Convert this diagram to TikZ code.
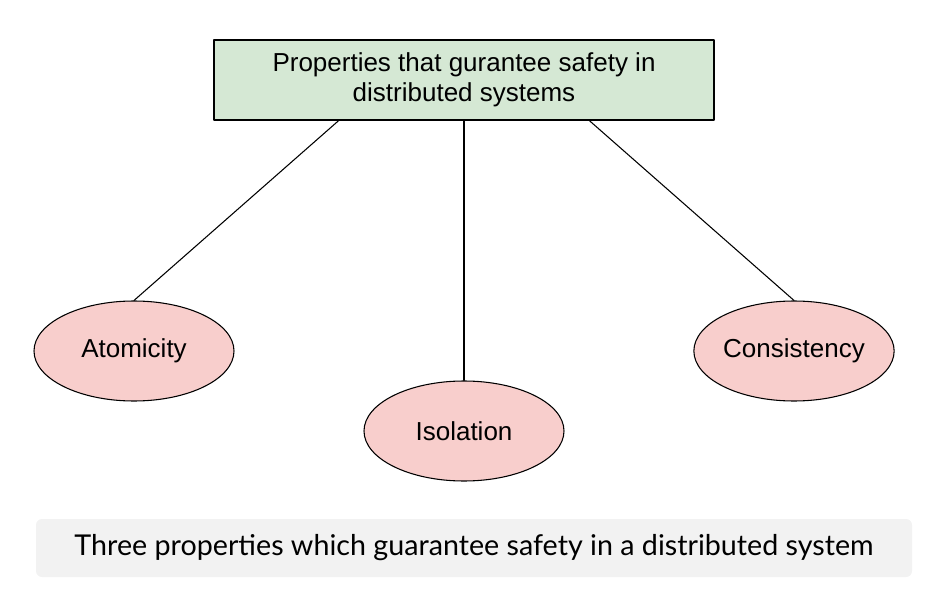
\documentclass[tikz,border=0pt]{standalone}
\usepackage{fontspec}
\setmainfont{Liberation Sans}
\newfontfamily\captionfont{Lato}
\usetikzlibrary{shapes.geometric,calc}
\definecolor{boxgreen}{HTML}{D5E8D4}
\definecolor{ovalred}{HTML}{F8CECC}
\definecolor{capgray}{HTML}{F2F2F2}
\begin{document}
\begin{tikzpicture}[x=0.75pt, y=-0.75pt, font=\fontsize{19.5}{22.5}\selectfont, line join=round, line cap=round]
% Khung bao
\useasboundingbox (0,0) rectangle (930,598);
% Kiểu dáng
\tikzset{
  topbox/.style={draw, thick, fill=boxgreen, minimum width=375pt, minimum height=60pt, align=center, inner sep=0pt},
  prop/.style={ellipse, draw, thick, fill=ovalred, minimum width=150pt, minimum height=75pt, inner sep=0pt},
  capbox/.style={fill=capgray, rounded corners=4.5pt, minimum width=657pt, minimum height=43.5pt, inner sep=0pt, font=\captionfont\fontsize{21.5}{26}\selectfont}
}
% Hộp trên cùng
\node[topbox] (P) at (464,80) {Properties that gurantee safety in\\distributed systems};
% Ba tính chất
\node[prop] (A) at (134,351) {Atomicity};
\node[prop] (I) at (464,431) {Isolation};
\node[prop] (C) at (794,351) {Consistency};
% Điểm nối ở cạnh dưới
\coordinate (PL) at ($(P.south west)!0.25!(P.south east)$);
\coordinate (PR) at ($(P.south west)!0.75!(P.south east)$);
% Các đoạn thẳng
\draw[thick] (PL) -- (A.north);
\draw[thick] (P.south) -- (I.north);
\draw[thick] (PR) -- (C.north);
% Chú thích
\node[capbox] (cap) at (474,548) {Three properties which guarantee safety in a distributed system};
\end{tikzpicture}
\end{document}
